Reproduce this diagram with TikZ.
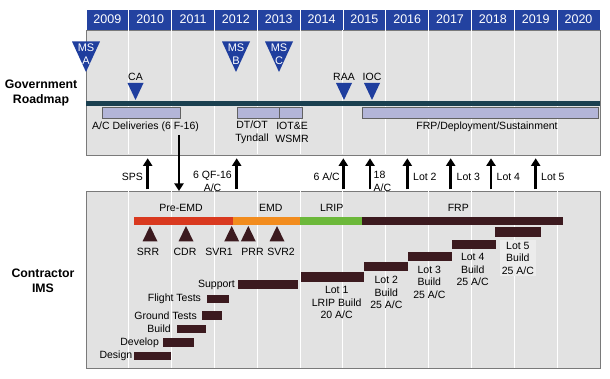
\documentclass[tikz,border=0pt]{standalone}
\usepackage{fontspec}
\setmainfont{Liberation Sans}
\usetikzlibrary{arrows.meta,positioning}

\definecolor{hdrblue}{HTML}{2342A0}
\definecolor{msblue}{HTML}{1F3E9E}
\definecolor{panelgray}{HTML}{E2E2E2}
\definecolor{edgegray}{HTML}{7A7A7A}
\definecolor{roadteal}{HTML}{1B4050}
\definecolor{barlilac}{HTML}{B3B5D8}
\definecolor{phred}{HTML}{D9391F}
\definecolor{phorange}{HTML}{F28C1E}
\definecolor{phgreen}{HTML}{6CB83A}
\definecolor{ganttbrown}{HTML}{3C1A1F}
\definecolor{lotfill}{HTML}{ECECEC}

\tikzset{
  lbl/.style={font=\fontsize{10.5}{12.5}\selectfont, inner sep=0pt, align=center},
  sidelbl/.style={font=\fontsize{12.3}{15}\selectfont\bfseries, inner sep=0pt, align=center},
  yearcell/.style={fill=hdrblue, draw=white, line width=0.8pt, text=white,
    minimum width=42.83pt, minimum height=21pt, inner sep=0pt,
    font=\fontsize{12.5}{12.5}\selectfont},
  panel/.style={fill=panelgray, draw=edgegray, line width=0.8pt, inner sep=0pt,
    minimum width=514pt, anchor=north west},
  gridln/.style={white, line width=1pt},
  lilacbar/.style={fill=barlilac, draw=edgegray!80!black, line width=0.6pt},
  gbar/.style={fill=ganttbrown, inner sep=0pt, minimum height=9pt},
  deliv/.style={line width=2.7pt, -{Triangle[width=9pt,length=7.5pt]}},
}

\begin{document}
\begin{tikzpicture}[x=1pt,y=-1pt]
  \useasboundingbox (0,0) rectangle (610,379);

  % year header
  \foreach \yr [count=\i from 0] in {2009,...,2020}
    \node[yearcell] (y\yr) at ({107.4+42.83*\i},19.5) {\yr};

  % the two panels
  \node[panel, minimum height=125pt] (gov) at (86,30) {};
  \node[panel, minimum height=177pt] (ims) at (86,191) {};
  \foreach \i in {1,...,11} {
    \draw[gridln] ({86+42.83*\i},30.5) -- ({86+42.83*\i},154.5);
    \draw[gridln] ({86+42.83*\i},191.5) -- ({86+42.83*\i},367.5);
  }

  \node[sidelbl] (govlbl) at (41,92.5) {Government\\Roadmap};
  \node[sidelbl] (imslbl) at (43,280.5) {Contractor\\IMS};

  % government roadmap
  \fill[roadteal] (86,101.5) rectangle (600,106.5);
  \draw[lilacbar] (102.7,107) rectangle (180,118);
  \draw[lilacbar] (237.3,107) rectangle (279.3,118);
  \draw[lilacbar] (279.3,107) rectangle (302.3,118);
  \draw[lilacbar] (362.7,107) rectangle (598,118);

  \node[lbl] (acdel) at (145.5,126.5) {A/C Deliveries (6 F-16)};
  \node[lbl] (dtot) at (252,132.5) {DT/OT\\Tyndall};
  \node[lbl] (iote) at (292,132.5) {IOT\&E\\WSMR};
  \node[lbl] (frpdep) at (487,126.5) {FRP/Deployment/Sustainment};

  \foreach \x/\nm/\t in {86/msa/A, 236/msb/B, 279/msc/C} {
    \fill[msblue] ({\x-14},41.5) -- ({\x+14},41.5) -- (\x,72) -- cycle;
    \node[lbl, text=white, font=\fontsize{11}{13}\selectfont] (\nm) at (\x,54.5) {MS\\\t};
  }
  \foreach \x/\t in {135.5/CA, 344/RAA, 372/IOC} {
    \fill[msblue] ({\x-8},83) -- ({\x+8},83) -- (\x,100) -- cycle;
    \node[lbl] (ms\t) at (\x,77) {\t};
  }

  % deliveries between the panels
  \coordinate (handover) at (179,135);
  \draw[deliv] (handover) -- (179,0 |- ims.north);
  \foreach \x in {147.7,236.7,343.3,370,407.3,450.7,491,535.7}
    \draw[deliv, shorten <=1.5pt, shorten >=2.5pt] (\x,0 |- ims.north) -- (\x,0 |- gov.south);

  \node[lbl, anchor=east] (sps) at (143,176.5) {SPS};
  \node[lbl] (qf) at (212.5,181.5) {6 QF-16\\A/C};
  \node[lbl, anchor=east] (lrip6) at (340,176.5) {6 A/C};
  \node[lbl, anchor=west, align=left] (lrip18) at (373.5,181.5) {18\\A/C};
  \node[lbl, anchor=west] (dlot2) at (413,176.5) {Lot 2};
  \node[lbl, anchor=west] (dlot3) at (456.5,176.5) {Lot 3};
  \node[lbl, anchor=west] (dlot4) at (496.5,176.5) {Lot 4};
  \node[lbl, anchor=west] (dlot5) at (541,176.5) {Lot 5};

  % contractor phases
  \fill[phred] (134,216.7) rectangle (233.3,225);
  \fill[phorange] (233.3,216.7) rectangle (300,225);
  \fill[phgreen] (300,216.7) rectangle (362.3,225);
  \fill[ganttbrown] (362.3,216.7) rectangle (563.3,225);
  \node[lbl] (preemd) at (181,208) {Pre-EMD};
  \node[lbl] (emd) at (270.7,208) {EMD};
  \node[lbl] (lrip) at (331.7,208) {LRIP};
  \node[lbl] (frp) at (458.3,208) {FRP};

  \foreach \x in {150,186,231.7,248.3,277}
    \fill[ganttbrown] ({\x-7.5},241.5) -- ({\x+7.5},241.5) -- (\x,226) -- cycle;
  \foreach \x/\t in {148/SRR, 185/CDR, 219/SVR1, 252.5/PRR, 281/SVR2}
    \node[lbl] (\t) at (\x,252) {\t};

  % development tasks
  \node[gbar, minimum width=60pt] (support) at (268.3,284.7) {};
  \node[gbar, minimum width=21.7pt, minimum height=8.3pt] (flight) at (218.2,299.2) {};
  \node[gbar, minimum width=20pt] (ground) at (212.3,315.3) {};
  \node[gbar, minimum width=29.3pt, minimum height=8.3pt] (build) at (191.3,329.2) {};
  \node[gbar, minimum width=31pt] (develop) at (178.8,342.8) {};
  \node[gbar, minimum width=36.7pt, minimum height=8.3pt] (design) at (152.3,355.9) {};
  \node[lbl, left=3pt of support] {Support};
  \node[lbl, left=6pt of flight] {Flight Tests};
  \node[lbl, left=5pt of ground] {Ground Tests};
  \node[lbl, left=5.5pt of build] {Build};
  \node[lbl, left=4pt of develop] {Develop};
  \node[lbl, left=1.3pt of design] {Design};

  % production lots
  \node[gbar, minimum width=63.3pt, minimum height=9.4pt] (lot1) at (332.7,277) {};
  \node[gbar, minimum width=44pt, minimum height=8.7pt] (lot2) at (386.3,266.7) {};
  \node[gbar, minimum width=44pt] (lot3) at (430.3,256.2) {};
  \node[gbar, minimum width=43.4pt] (lot4) at (474,244.5) {};
  \node[gbar, minimum width=45.7pt, minimum height=9.4pt] (lot5) at (517.9,232) {};
  \node[lbl, below=4.5pt of lot1, xshift=4pt] (lot1txt) {Lot 1\\LRIP Build\\20 A/C};
  \node[lbl, below=5pt of lot2] (lot2txt) {Lot 2\\Build\\25 A/C};
  \node[lbl, below=5pt of lot3, xshift=-1pt] (lot3txt) {Lot 3\\Build\\25 A/C};
  \node[lbl, below=4pt of lot4, xshift=-1.3pt] (lot4txt) {Lot 4\\Build\\25 A/C};
  \node[lbl, below=3pt of lot5, fill=lotfill, inner sep=2pt] (lot5txt) {Lot 5\\Build\\25 A/C};
\end{tikzpicture}
\end{document}
